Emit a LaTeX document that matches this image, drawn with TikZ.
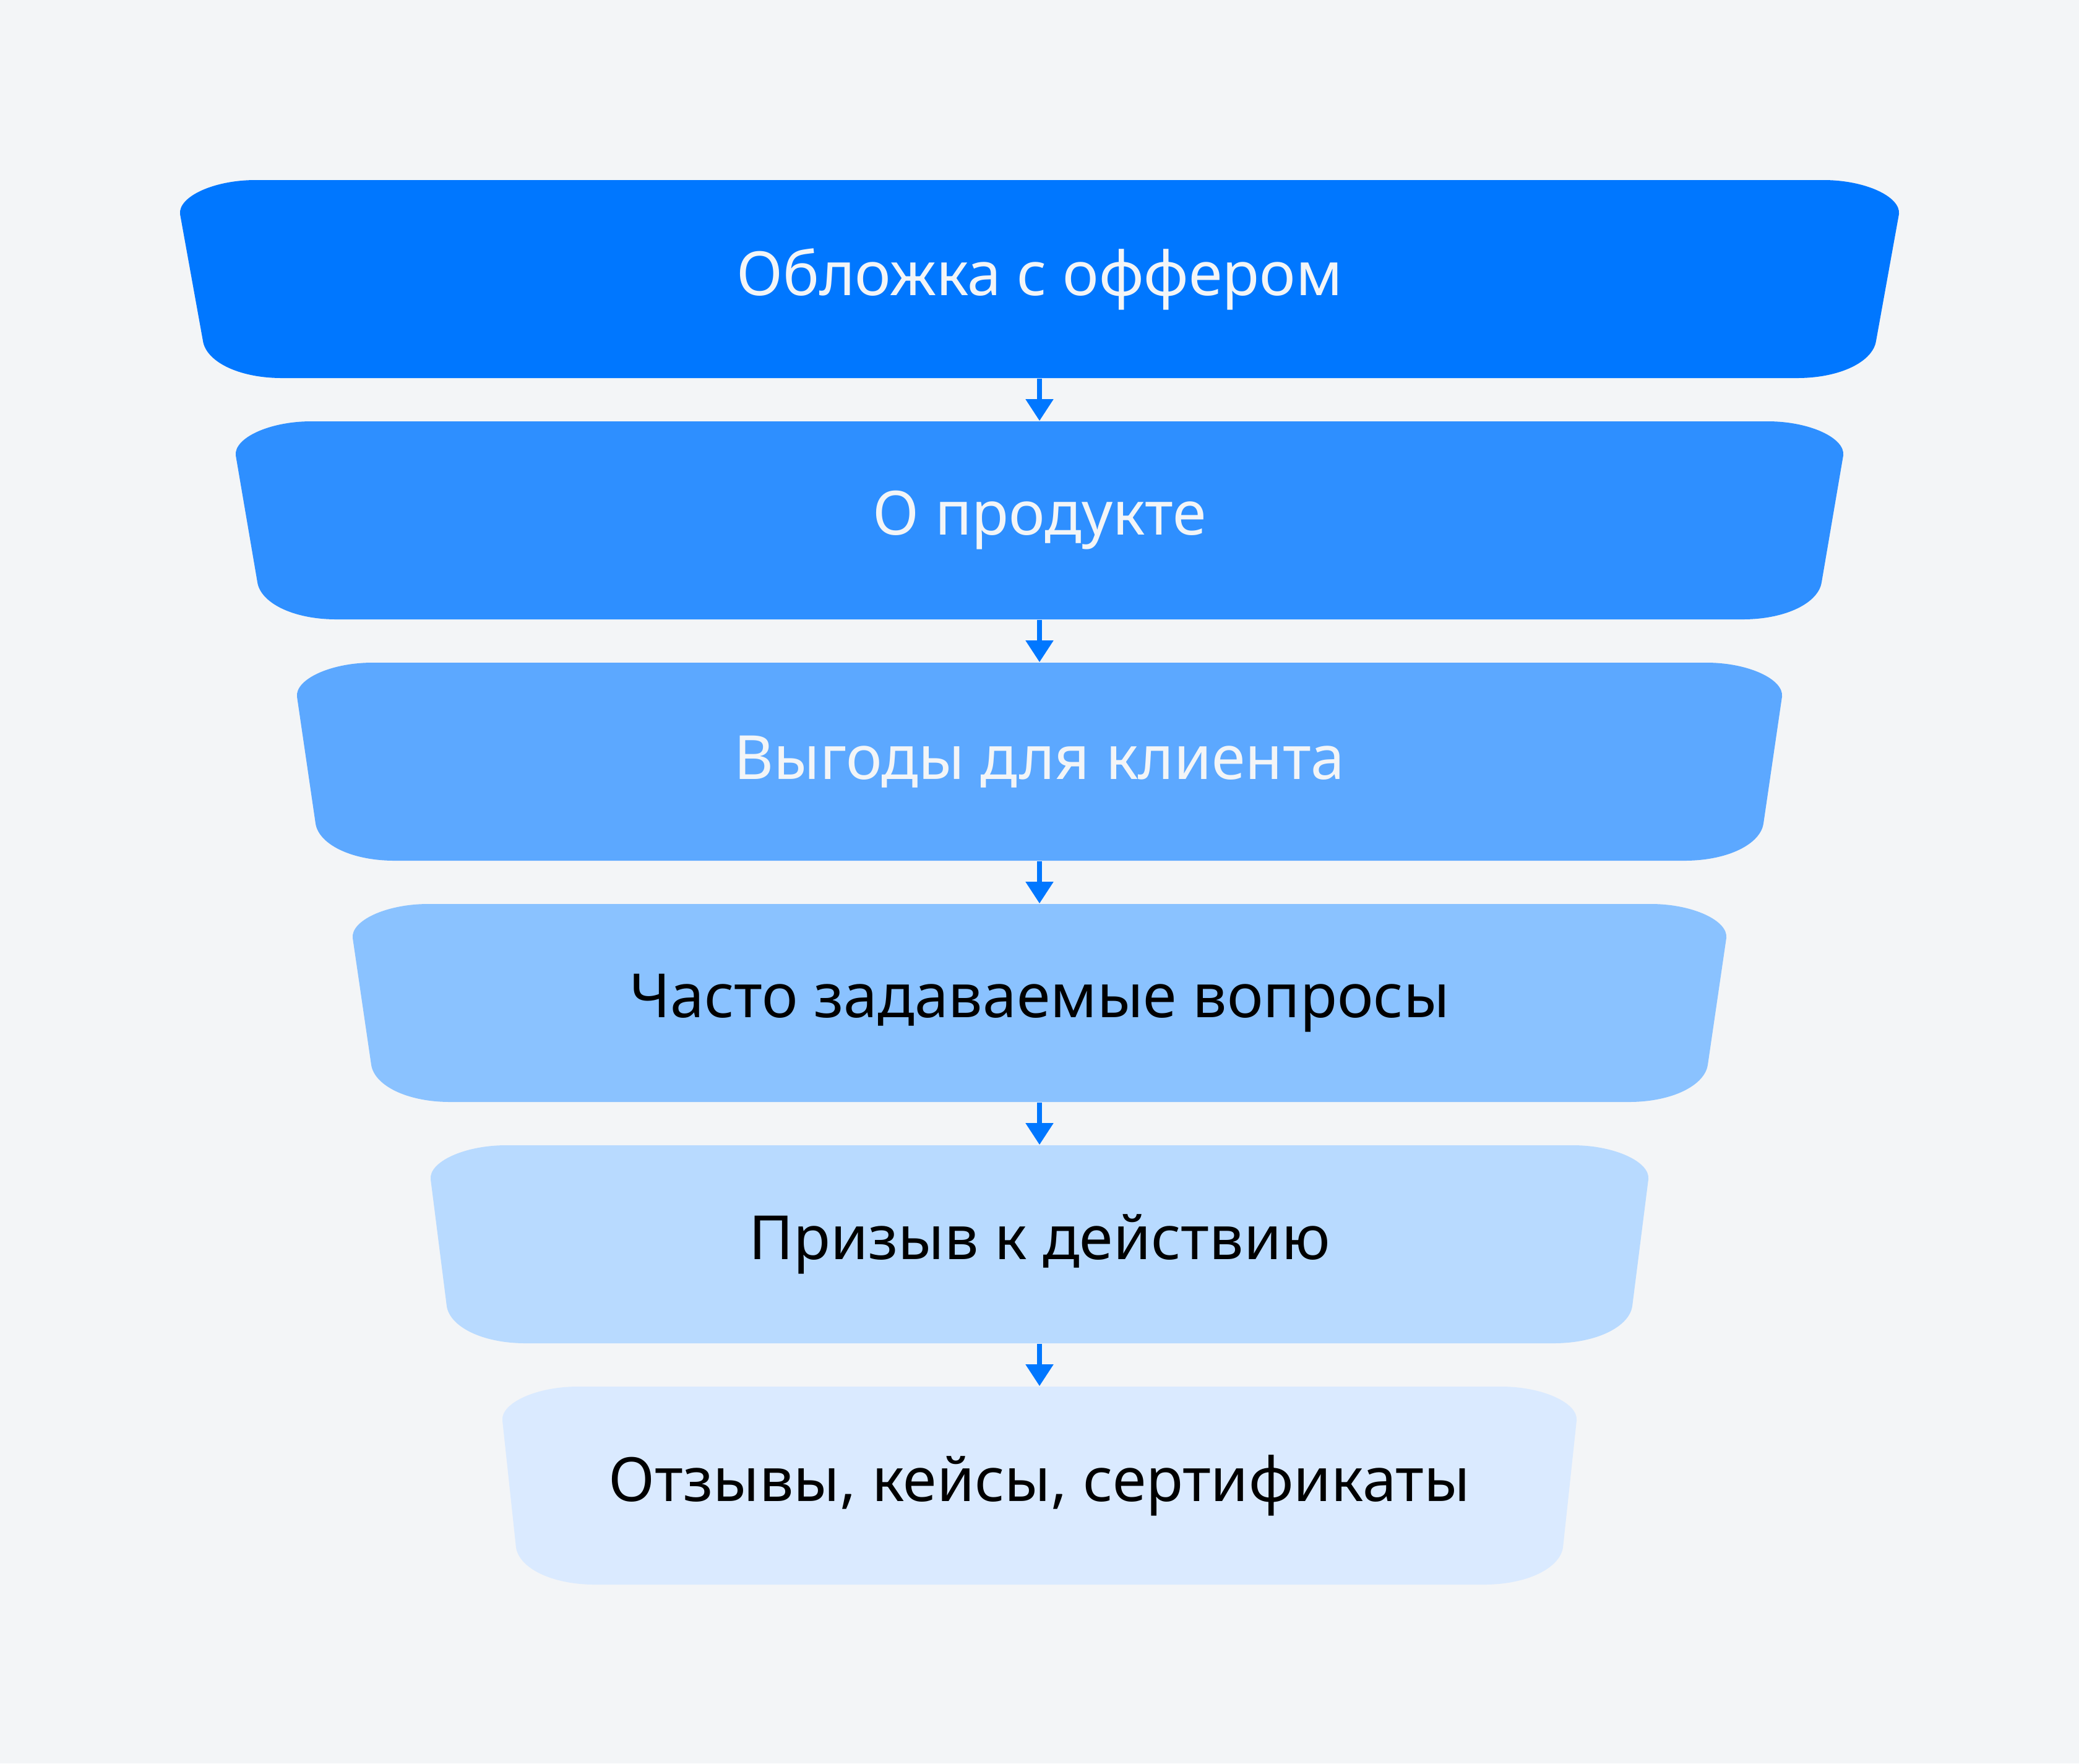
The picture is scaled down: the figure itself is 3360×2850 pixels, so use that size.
\documentclass[tikz,border=0pt]{standalone}
\usepackage{fontspec}
\setmainfont{Noto Sans}
\usetikzlibrary{arrows.meta}
\definecolor{bgcol}{HTML}{F3F5F7}
\definecolor{flowcol}{HTML}{0077FF}
\tikzset{tier/.style={inner sep=0pt,minimum height=3.2cm,font=\fontsize{28pt}{34pt}\selectfont},
  flow/.style={draw=flowcol,line width=0.08cm,-{Triangle[width=0.43cm,length=0.35cm]}}}

\begin{document}
\begin{tikzpicture}[x=0.01cm,y=-0.01cm]
  % background
  \fill[bgcol] (0,0) rectangle (3360,2850);

  % funnel tiers: number/top/outer half width/inner half width/fill/text colour/label
  \foreach \i/\t/\a/\b/\fc/\tc/\txt in {
      1/291/1389/1352/0077FF/bgcol/{Обложка с оффером},
      2/681/1299/1264/2E8FFF/bgcol/{О продукте},
      3/1071/1200/1170/5CA8FF/bgcol/{Выгоды для клиента},
      4/1461/1110/1080/8AC2FF/black/{Часто задаваемые вопросы},
      5/1851/984/958/B8DAFF/black/{Призыв к действию},
      6/2241/868/846/DAEAFF/black/{Отзывы, кейсы, сертификаты}}
  {
    \definecolor{fillcol}{HTML}{\fc}
    \fill[fillcol] ({1680-\a+122},\t) -- ({1680+\a-122},\t)
      .. controls ({1680+\a-54},\t) and ({1680+\a+3},{\t+27}) .. ({1680+\a},{\t+55})
      -- ({1680+\b},{\t+260})
      .. controls ({1680+\b-5},{\t+293}) and ({1680+\b-57},{\t+320}) .. ({1680+\b-128},{\t+320})
      -- ({1680-\b+128},{\t+320})
      .. controls ({1680-\b+57},{\t+320}) and ({1680-\b+5},{\t+293}) .. ({1680-\b},{\t+260})
      -- ({1680-\a},{\t+55})
      .. controls ({1680-\a-3},{\t+27}) and ({1680-\a+54},\t) .. cycle;
    \node (t-\i) [tier,text=\tc] at (1680,{\t+160}) {\raisebox{-4\dimexpr0.01cm\relax}{\txt}};
  }

  % arrows
  \foreach \i [count=\j from 2] in {1,...,5}
    \draw[flow] (t-\i) -- (t-\j);
\end{tikzpicture}
\end{document}
